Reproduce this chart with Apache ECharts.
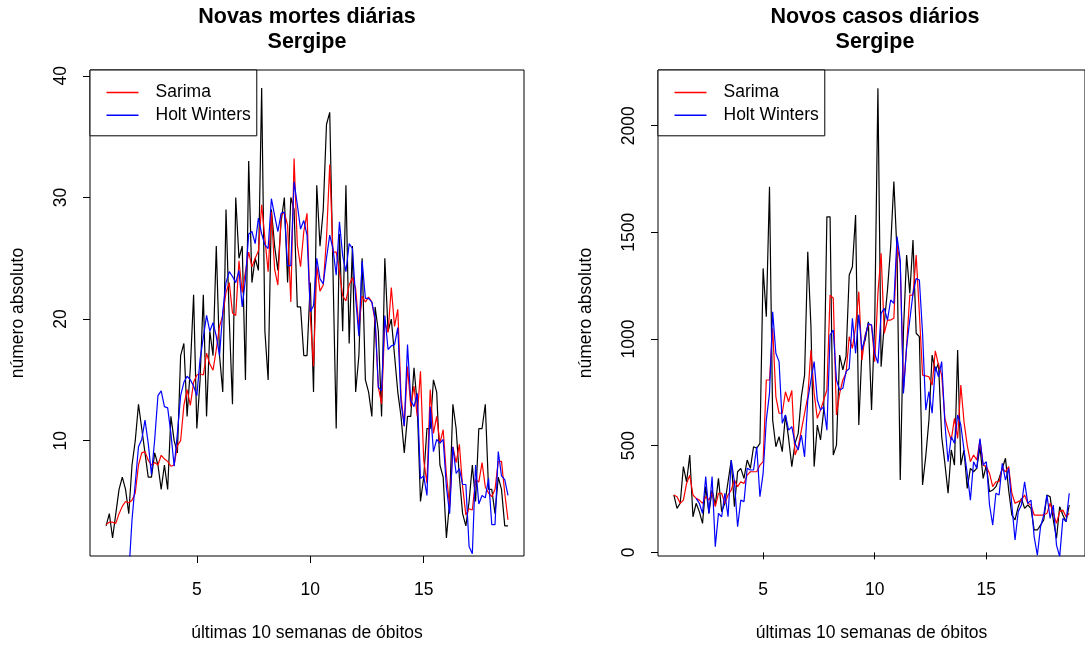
<!DOCTYPE html>
<html>
<head>
<meta charset="utf-8">
<script src="https://cdn.jsdelivr.net/npm/echarts@6/dist/echarts.min.js"></script>
<style>
  html, body { margin: 0; background: #fff; }
  #main { width: 1085px; height: 648px; }
</style>
</head>
<body>
<div id="main"></div>
<script>
var chartDom = document.getElementById('main')
var myChart = echarts.init(chartDom)
var option

// série diária com frequência semanal (7), começando na semana 1
let semana = i => 1 + i / 7

// novas mortes diárias - Sergipe
let obitos = [
  3, 4, 2, 4, 6, 7, 6, 4, 8, 10, 13, 11, 9, 7, 7, 9, 8, 6, 8, 6,
  12, 10, 9, 17, 18, 12, 16, 22, 11, 15, 22, 12, 19, 17, 26, 17, 14, 29, 20, 13,
  30, 25, 26, 15, 33, 23, 25, 24, 39, 19, 15, 29, 26, 24, 28, 30, 23, 30, 29, 21,
  21, 17, 17, 23, 14, 31, 26, 29, 36, 37, 24, 11, 27, 19, 31, 18, 26, 14, 17, 25,
  15, 14, 12, 21, 19, 12, 25, 19, 20, 17, 14, 12, 9, 12, 12, 16, 13, 5, 7, 11,
  11, 15, 14, 8, 7, 2, 5, 13, 11, 7, 4, 3, 5, 8, 5, 11, 11, 13, 6, 6,
  4, 7, 6, 3, 3
]
let obitosSarima = [
  3.1, 3.3, 3.3, 3.2, 4.0, 4.6, 5.0, 4.9, 5.1, 5.7, 8.0, 9.0, 9.1, 8.4, 8.0, 8.2, 8.0, 8.8, 8.5, 8.3,
  7.9, 8.0, 9.6, 10.0, 12.9, 14.2, 12.9, 14.8, 15.4, 15.5, 15.4, 17.2, 16.3, 15.8, 17.5, 19.4, 20.3, 22.2, 23.0, 20.5,
  20.3, 24.8, 22.2, 23.9, 25.5, 24.3, 25.0, 25.6, 29.4, 26.6, 23.9, 28.8, 24.1, 22.8, 28.5, 28.8, 27.7, 21.4, 33.2, 26.1,
  24.3, 27.2, 28.7, 20.3, 16.1, 24.4, 22.3, 22.8, 26.6, 32.7, 25.5, 25.5, 23.9, 21.9, 21.5, 22.8, 23.4, 22.5, 19.3, 21.9,
  21.4, 21.8, 21.4, 19.8, 14.4, 13.0, 19.7, 18.9, 22.6, 19.4, 20.8, 13.7, 11.2, 16.1, 12.8, 14.5, 12.0, 15.7, 8.4, 6.5,
  14.2, 10.6, 12.0, 9.8, 10.9, 7.2, 4.6, 9.5, 8.2, 9.7, 6.2, 3.9, 4.4, 4.3, 6.8, 6.6, 8.2, 6.2, 5.7, 5.4,
  6.0, 8.3, 8.3, 5.7, 3.5
]
let obitosHolt = [
  null, null, null, null, null, null, null, -1, 3.5, 6.5, 9.5, 10.1, 11.7, 9.8, 7.2, 10.1, 13.7, 14.1, 12.8, 12.7,
  10.6, 7.9, 10.6, 13.7, 14.8, 15.3, 15.0, 14.5, 13.7, 16.7, 18.5, 20.3, 19.0, 19.7, 18.6, 17.0, 20.6, 23.0, 23.9, 23.5,
  23.0, 24.0, 21.0, 23.3, 27.0, 27.2, 26.2, 28.3, 27.0, 26.1, 25.8, 29.9, 28.5, 27.2, 28.7, 28.8, 24.4, 24.4, 31.3, 29.4,
  27.4, 28.1, 26.9, 20.6, 21.1, 25.0, 23.3, 22.9, 25.0, 26.9, 25.8, 23.6, 28.0, 25.2, 23.9, 26.2, 25.8, 21.7, 18.6, 24.8,
  21.7, 21.7, 21.4, 20.1, 14.4, 14.1, 20.3, 17.5, 17.8, 17.9, 19.3, 13.1, 11.2, 17.9, 13.3, 12.8, 13.9, 6.9, 7.1, 5.5,
  12.8, 9.1, 10.1, 9.8, 10.1, 6.2, 4.0, 9.5, 7.3, 7.7, 6.4, 6.4, 1.3, 0.7, 8.0, 4.8, 5.5, 5.3, 6.9, 3.1,
  3.1, 9.1, 7.1, 6.8, 5.5
]

// novos casos diários - Sergipe
let casos = [
  269, 206, 230, 402, 331, 456, 167, 230, 191, 136, 308, 183, 292, 222, 347, 191, 230, 331, 433, 214,
  378, 394, 347, 433, 394, 495, 488, 511, 1331, 1105, 1714, 620, 495, 542, 472, 644, 534, 402, 511, 558,
  730, 831, 1409, 1058, 402, 597, 527, 667, 1573, 1573, 456, 503, 925, 855, 917, 1300, 1339, 1581, 597, 948,
  995, 1081, 667, 1081, 2175, 870, 1073, 1230, 1433, 1738, 1402, 339, 1034, 1394, 1214, 1464, 1027, 1011, 316, 450,
  620, 925, 850, 886, 542, 417, 277, 480, 409, 948, 409, 480, 300, 394, 378, 394, 495, 347, 409, 284,
  292, 308, 347, 394, 441, 292, 175, 152, 214, 253, 206, 222, 206, 105, 105, 128, 152, 269, 261, 152,
  66, 214, 175, 144, 222
]
let casosSarima = [
  269, 261, 230, 245, 323, 362, 269, 253, 245, 230, 261, 245, 277, 214, 277, 277, 230, 269, 292, 339,
  308, 331, 323, 362, 378, 378, 378, 409, 425, 808, 808, 1050, 730, 652, 652, 753, 706, 759, 456, 495,
  573, 652, 730, 948, 745, 628, 667, 714, 761, 1206, 1191, 644, 745, 808, 839, 1011, 956, 1058, 1222, 902,
  1019, 1066, 1066, 894, 1214, 1402, 1027, 1089, 1089, 1097, 1441, 1355, 761, 964, 1206, 1206, 1394, 1120, 831, 827,
  823, 784, 945, 878, 831, 628, 573, 527, 628, 534, 784, 612, 503, 425, 456, 433, 527, 409, 402, 370,
  308, 331, 331, 394, 378, 402, 277, 230, 238, 245, 269, 230, 222, 175, 175, 175, 175, 183, 230, 183,
  136, 191, 198, 167, 183
]
let casosHolt = [
  null, null, null, null, null, null, null, 253, 230, 183, 355, 183, 355, 27, 183, 167, 277, 167, 433, 331,
  120, 245, 238, 394, 386, 386, 495, 261, 370, 620, 745, 1128, 933, 894, 605, 644, 573, 589, 511, 480,
  550, 448, 714, 808, 894, 714, 667, 683, 573, 1019, 1042, 808, 761, 769, 847, 862, 1097, 933, 1113, 948,
  1011, 1073, 1066, 933, 886, 1120, 1144, 1089, 1183, 1167, 1480, 1370, 745, 964, 1089, 1214, 1284, 1277, 1027, 667,
  753, 652, 870, 823, 894, 605, 425, 542, 511, 644, 597, 480, 370, 245, 425, 394, 534, 409, 425, 222,
  128, 277, 269, 417, 339, 394, 222, 58, 191, 222, 331, 230, 245, 73, -13, 120, 175, 269, 159, 222,
  34, -20, 159, 144, 277
]

let ticksX = [5, 10, 15]
let ticksObitos = [10, 20, 30, 40]
let ticksCasos = [0, 500, 1000, 1500, 2000]

let fonte = '"Liberation Sans", Arial, sans-serif'
let pares = arr => arr.map((v, i) => [semana(i), v])

let eixoX = (idx) => ({
  type: 'value',
  gridIndex: idx,
  min: 0.291,
  max: 19.42,
  axisLine: { show: false },
  splitLine: { show: false },
  axisTick: { show: true, length: 7, customValues: ticksX, lineStyle: { color: '#000' } },
  axisLabel: { customValues: ticksX, margin: 25, fontSize: 17.5, color: '#000', fontFamily: fonte },
  name: 'últimas 10 semanas de óbitos',
  nameLocation: 'middle',
  nameGap: 68,
  nameTextStyle: { fontSize: 17.5, color: '#000', fontFamily: fonte }
})

let eixoY = (idx, min, max, ticks) => ({
  type: 'value',
  gridIndex: idx,
  min: min,
  max: max,
  axisLine: { show: false },
  splitLine: { show: false },
  axisTick: { show: true, length: 7, customValues: ticks, lineStyle: { color: '#000' } },
  axisLabel: {
    customValues: ticks,
    rotate: 90,
    margin: 20,
    fontSize: 17.5,
    color: '#000',
    fontFamily: fonte,
    formatter: v => String(v)
  },
  name: 'número absoluto',
  nameLocation: 'middle',
  nameGap: 63,
  nameTextStyle: { fontSize: 17.5, color: '#000', fontFamily: fonte }
})

let linha = (name, idx, arr, color) => ({
  name: name,
  type: 'line',
  xAxisIndex: idx,
  yAxisIndex: idx,
  data: pares(arr),
  symbol: 'none',
  clip: true,
  lineStyle: { color: color, width: 1.2 },
  itemStyle: { color: color }
})

let legenda = left => ({
  data: ['Sarima', 'Holt Winters'],
  orient: 'vertical',
  left: left,
  top: 70,
  icon: 'rect',
  itemWidth: 32,
  itemHeight: 1.5,
  itemGap: 4.8,
  padding: [13.5, 6, 11.5, 16.5],
  borderColor: '#000',
  borderWidth: 1,
  borderRadius: 0,
  backgroundColor: '#fff',
  textStyle: { fontSize: 17.5, color: '#000', fontFamily: fonte, padding: [0, 0, 0, 12] }
})

let titulo = (x, l1, l2) => [
  { type: 'text', x: x, y: 17, style: { text: l1, font: 'bold 21.5px ' + fonte, fill: '#000', align: 'center', textAlign: 'center', verticalAlign: 'middle', textVerticalAlign: 'middle' } },
  { type: 'text', x: x, y: 42, style: { text: l2, font: 'bold 21.5px ' + fonte, fill: '#000', align: 'center', textAlign: 'center', verticalAlign: 'middle', textVerticalAlign: 'middle' } }
]

option = {
  animation: false,
  backgroundColor: '#fff',
  textStyle: { fontFamily: fonte },
  graphic: titulo(307, 'Novas mortes diárias', 'Sergipe').concat(titulo(875, 'Novos casos diários', 'Sergipe')),
  legend: [legenda(90), legenda(658)],
  grid: [
    { left: 90, top: 70, width: 434, height: 486, show: true, borderColor: '#000', borderWidth: 1, backgroundColor: 'transparent' },
    { left: 658, top: 70, width: 434, height: 486, show: true, borderColor: '#000', borderWidth: 1, backgroundColor: 'transparent' }
  ],
  xAxis: [eixoX(0), eixoX(1)],
  yAxis: [eixoY(0, 0.52, 40.48, ticksObitos), eixoY(1, -17, 2261, ticksCasos)],
  series: [
    linha('Observado', 0, obitos, '#000000'),
    linha('Sarima', 0, obitosSarima, '#ff0000'),
    linha('Holt Winters', 0, obitosHolt, '#0000ff'),
    linha('Observado', 1, casos, '#000000'),
    linha('Sarima', 1, casosSarima, '#ff0000'),
    linha('Holt Winters', 1, casosHolt, '#0000ff')
  ]
}

option && myChart.setOption(option)
</script>
</body>
</html>
